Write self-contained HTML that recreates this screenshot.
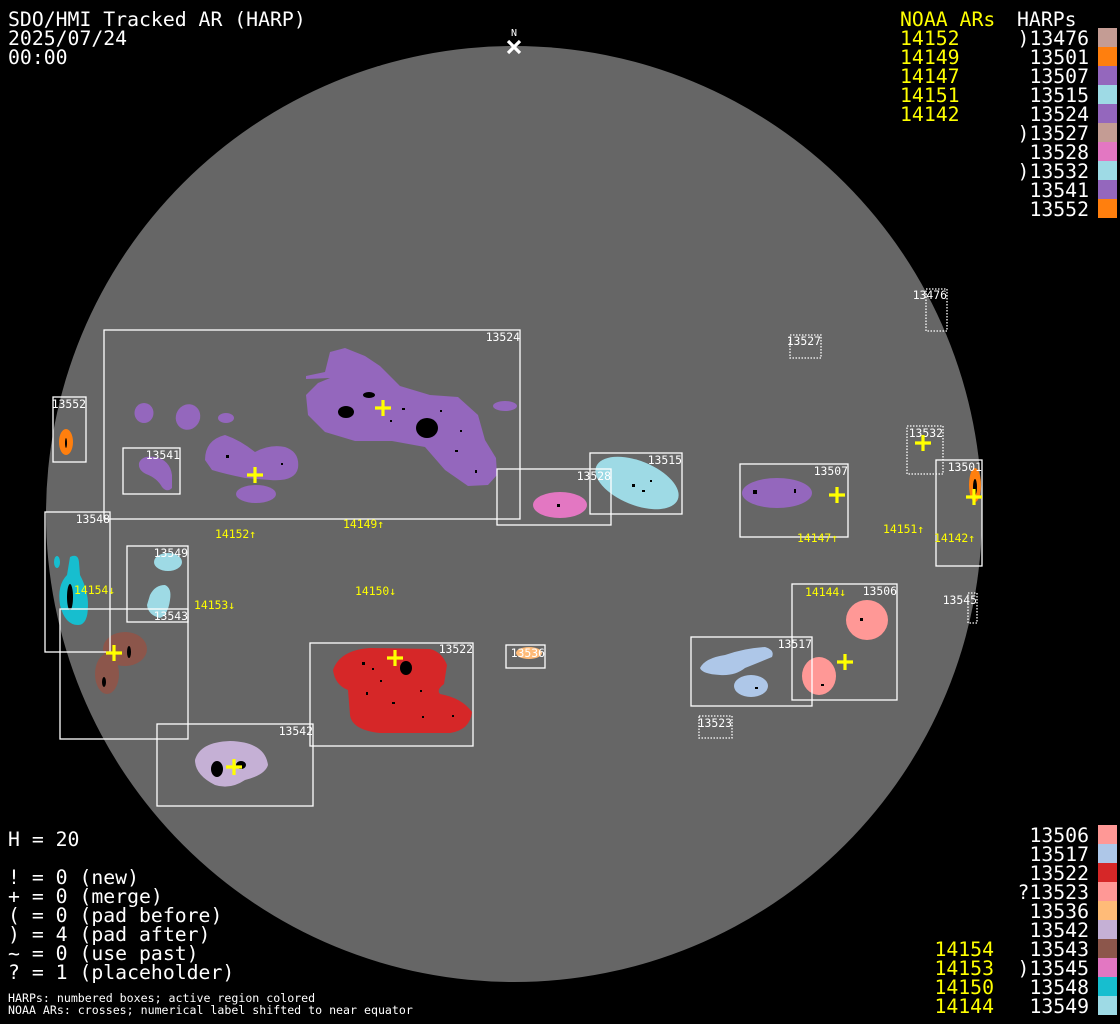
<!DOCTYPE html>
<html><head><meta charset="utf-8"><style>
html,body{margin:0;padding:0;background:#000;}
svg{display:block;}
text{font-family:"DejaVu Sans Mono","Liberation Mono",monospace;}
.big{font-size:19.8px;fill:#fff;}
.y{fill:#ffff00;}
.lb{font-size:11.4px;fill:#fff;}
.nl{font-size:11.4px;fill:#ffff00;}
.sm{font-size:11.6px;fill:#fff;}
.bx{fill:none;stroke:#fff;stroke-width:1.3;}
.dt{fill:none;stroke:#fff;stroke-width:1.3;stroke-dasharray:1.5 1.5;}
.cr{stroke:#ffff00;stroke-width:3.2;}
.k{fill:#000;}
</style></head><body>
<svg width="1120" height="1024" viewBox="0 0 1120 1024" xmlns="http://www.w3.org/2000/svg">
<rect width="1120" height="1024" fill="#000"/>
<circle cx="514" cy="514" r="468" fill="#666666"/>

<text x="514" y="36" class="lb" text-anchor="middle" style="font-size:10px">N</text>
<path d="M508,41 L520,53 M520,41 L508,53" stroke="#fff" stroke-width="3.2"/>

<g stroke-linejoin="round">
<path fill="#9467bd" d="M306,376 L325,372 L330,352 L345,348 L365,356 L380,366 L400,386 L430,395 L458,397 L478,415 L485,440 L496,458 L497,475 L488,485 L468,486 L445,470 L425,447 L392,441 L355,441 L325,432 L308,415 L306,395 L318,383 L330,378 L306,379 Z"/>
<ellipse cx="505" cy="406" rx="12" ry="5" fill="#9467bd"/>
<ellipse cx="144" cy="413" rx="9.5" ry="10" fill="#9467bd"/>
<ellipse cx="188" cy="417" rx="12" ry="13" transform="rotate(30 188 417)" fill="#9467bd"/>
<ellipse cx="226" cy="418" rx="8" ry="5" fill="#9467bd"/>
<path fill="#9467bd" d="M205,460 Q205,440 225,435 Q240,440 255,452 Q270,444 285,447 Q300,452 298,468 Q295,482 270,480 L245,478 Q225,474 212,470 Z"/>
<ellipse cx="256" cy="494" rx="20" ry="9" fill="#9467bd"/>
<path fill="#9467bd" d="M139,463 Q142,455 155,457 Q170,460 172,475 L172,488 Q167,493 162,487 Q157,478 146,474 Q138,470 139,463 Z"/>
<ellipse cx="66" cy="442" rx="7" ry="13" fill="#ff7f0e"/>
<path fill="#17becf" d="M70,557 Q78,553 79,562 L80,575 Q88,590 88,605 Q88,625 78,625 Q65,625 60,605 Q57,585 67,575 Z"/>
<ellipse cx="57" cy="562" rx="3" ry="6" fill="#17becf"/>
<ellipse cx="168" cy="562" rx="14" ry="9" fill="#9edae5"/>
<path fill="#9edae5" d="M150,595 Q155,585 165,585 Q172,588 170,600 Q168,615 160,618 Q148,615 147,605 Z"/>
<ellipse cx="125" cy="649" rx="22" ry="17" fill="#8c564b"/>
<ellipse cx="107" cy="674" rx="12" ry="20" fill="#8c564b"/>
<path fill="#d62728" d="M333,670 Q340,650 370,648 L430,649 Q442,652 447,665 L444,684 Q436,690 440,694 Q462,698 472,712 Q470,730 450,733 L380,733 Q352,730 350,715 L348,690 Q335,685 333,670 Z"/>
<path fill="#c5b0d5" d="M195,760 Q200,742 230,741 Q265,742 268,765 Q265,775 245,780 Q230,790 215,785 Q195,775 195,760 Z"/>
<ellipse cx="560" cy="505" rx="27" ry="13" fill="#e377c2"/>
<ellipse cx="637" cy="483" rx="44" ry="22" transform="rotate(22 637 483)" fill="#9edae5"/>
<ellipse cx="777" cy="493" rx="35" ry="15" fill="#9467bd"/>
<ellipse cx="975" cy="485" rx="6" ry="17" fill="#ff7f0e"/>
<ellipse cx="867" cy="620" rx="21" ry="20" fill="#ff9896"/>
<ellipse cx="819" cy="676" rx="17" ry="19" fill="#ff9896"/>
<path fill="#aec7e8" d="M700,668 Q705,658 725,655 Q745,648 765,647 Q775,650 772,657 Q760,662 745,668 Q735,676 720,675 Q702,674 700,668 Z"/>
<ellipse cx="751" cy="686" rx="17" ry="11" fill="#aec7e8"/>
<ellipse cx="529" cy="653" rx="13" ry="6" fill="#ffbb78"/>
</g>

<g class="k">
<ellipse cx="346" cy="412" rx="8" ry="6"/>
<ellipse cx="427" cy="428" rx="11" ry="10"/>
<ellipse cx="369" cy="395" rx="6" ry="3"/>
<ellipse cx="406" cy="668" rx="6" ry="7"/>
<ellipse cx="217" cy="769" rx="6" ry="8"/>
<ellipse cx="241" cy="765" rx="5" ry="4"/>
<ellipse cx="70" cy="597" rx="3" ry="13"/>
<ellipse cx="129" cy="652" rx="2" ry="6"/>
<ellipse cx="104" cy="682" rx="2" ry="5"/>
<ellipse cx="975" cy="487" rx="2" ry="8"/>
<ellipse cx="66" cy="443" rx="1" ry="5"/>
<rect x="362" y="662" width="3" height="3"/><rect x="372" y="668" width="2" height="2"/><rect x="366" y="692" width="2" height="3"/><rect x="392" y="702" width="3" height="2"/>
<rect x="422" y="716" width="2" height="2"/><rect x="452" y="715" width="2" height="2"/><rect x="380" y="680" width="2" height="2"/><rect x="420" y="690" width="2" height="2"/>
<rect x="632" y="484" width="3" height="3"/><rect x="642" y="490" width="3" height="2"/><rect x="650" y="480" width="2" height="2"/>
<rect x="753" y="490" width="4" height="4"/><rect x="794" y="489" width="2" height="4"/>
<rect x="557" y="504" width="3" height="3"/><rect x="860" y="618" width="3" height="3"/>
<rect x="821" y="684" width="3" height="2"/><rect x="755" y="687" width="3" height="2"/>
<rect x="402" y="408" width="3" height="2"/><rect x="455" y="450" width="3" height="2"/><rect x="475" y="470" width="2" height="3"/>
<rect x="390" y="420" width="2" height="2"/><rect x="440" y="410" width="2" height="2"/><rect x="460" y="430" width="2" height="2"/>
<rect x="226" y="455" width="3" height="3"/><rect x="281" y="463" width="2" height="2"/>
</g>

<rect class="bx" x="104" y="330" width="416" height="189"/>
<rect class="bx" x="53" y="397" width="33" height="65"/>
<rect class="bx" x="123" y="448" width="57" height="46"/>
<rect class="bx" x="45" y="512" width="65" height="140"/>
<rect class="bx" x="127" y="546" width="61" height="76"/>
<rect class="bx" x="60" y="609" width="128" height="130"/>
<rect class="bx" x="157" y="724" width="156" height="82"/>
<rect class="bx" x="310" y="643" width="163" height="103"/>
<rect class="bx" x="497" y="469" width="114" height="56"/>
<rect class="bx" x="590" y="453" width="92" height="61"/>
<rect class="bx" x="740" y="464" width="108" height="73"/>
<rect class="bx" x="936" y="460" width="46" height="106"/>
<rect class="bx" x="792" y="584" width="105" height="116"/>
<rect class="bx" x="691" y="637" width="121" height="69"/>
<rect class="bx" x="506" y="645" width="39" height="23"/>
<rect class="dt" x="907" y="426" width="36" height="48"/>
<rect class="dt" x="699" y="716" width="33" height="22"/>
<rect class="dt" x="968" y="593" width="9" height="30"/>
<rect class="dt" x="926" y="289" width="21" height="42"/>
<rect class="dt" x="790" y="335" width="31" height="23"/>

<g class="lb" text-anchor="end">
<text x="520" y="341">13524</text>
<text x="86" y="408">13552</text>
<text x="180" y="459">13541</text>
<text x="110" y="523">13548</text>
<text x="188" y="557">13549</text>
<text x="188" y="620">13543</text>
<text x="313" y="735">13542</text>
<text x="473" y="653">13522</text>
<text x="611" y="480">13528</text>
<text x="682" y="464">13515</text>
<text x="848" y="475">13507</text>
<text x="982" y="471">13501</text>
<text x="943" y="437">13532</text>
<text x="897" y="595">13506</text>
<text x="812" y="648">13517</text>
<text x="545" y="657">13536</text>
<text x="732" y="727">13523</text>
<text x="977" y="604">13545</text>
<text x="947" y="299">13476</text>
<text x="821" y="345">13527</text>
</g>

<g class="cr">
<path d="M375,408 H391 M383,400 V416"/>
<path d="M247,475 H263 M255,467 V483"/>
<path d="M106,653 H122 M114,645 V661"/>
<path d="M387,658 H403 M395,650 V666"/>
<path d="M226,767 H242 M234,759 V775"/>
<path d="M829,495 H845 M837,487 V503"/>
<path d="M915,443 H931 M923,435 V451"/>
<path d="M966,497 H982 M974,489 V505"/>
<path d="M837,662 H853 M845,654 V670"/>
</g>

<g class="nl">
<text x="215" y="538">14152↑</text>
<text x="343" y="528">14149↑</text>
<text x="74" y="594">14154↓</text>
<text x="194" y="609">14153↓</text>
<text x="355" y="595">14150↓</text>
<text x="797" y="542">14147↑</text>
<text x="883" y="533">14151↑</text>
<text x="934" y="542">14142↑</text>
<text x="805" y="596">14144↓</text>
</g>

<g class="big">
<text x="8" y="26">SDO/HMI Tracked AR (HARP)</text>
<text x="8" y="45">2025/07/24</text>
<text x="8" y="64">00:00</text>
</g>

<g class="big">
<text x="900" y="26" class="y">NOAA ARs</text>
<text x="900" y="45" class="y">14152</text>
<text x="900" y="64" class="y">14149</text>
<text x="900" y="83" class="y">14147</text>
<text x="900" y="102" class="y">14151</text>
<text x="900" y="121" class="y">14142</text>
<text x="1017" y="26">HARPs</text>
</g>
<g class="big" text-anchor="end">
<text x="1089" y="45">)13476</text>
<text x="1089" y="64">13501</text>
<text x="1089" y="83">13507</text>
<text x="1089" y="102">13515</text>
<text x="1089" y="121">13524</text>
<text x="1089" y="140">)13527</text>
<text x="1089" y="159">13528</text>
<text x="1089" y="178">)13532</text>
<text x="1089" y="197">13541</text>
<text x="1089" y="216">13552</text>
</g>
<g>
<rect x="1098" y="28" width="19" height="19" fill="#c49c94"/>
<rect x="1098" y="47" width="19" height="19" fill="#ff7f0e"/>
<rect x="1098" y="66" width="19" height="19" fill="#9467bd"/>
<rect x="1098" y="85" width="19" height="19" fill="#9edae5"/>
<rect x="1098" y="104" width="19" height="19" fill="#9467bd"/>
<rect x="1098" y="123" width="19" height="19" fill="#c49c94"/>
<rect x="1098" y="142" width="19" height="19" fill="#e377c2"/>
<rect x="1098" y="161" width="19" height="19" fill="#9edae5"/>
<rect x="1098" y="180" width="19" height="19" fill="#9467bd"/>
<rect x="1098" y="199" width="19" height="19" fill="#ff7f0e"/>
</g>

<g class="big">
<text x="8" y="846">H = 20</text>
<text x="8" y="884">! = 0 (new)</text>
<text x="8" y="903">+ = 0 (merge)</text>
<text x="8" y="922">( = 0 (pad before)</text>
<text x="8" y="941">) = 4 (pad after)</text>
<text x="8" y="960">~ = 0 (use past)</text>
<text x="8" y="979">? = 1 (placeholder)</text>
</g>
<g class="sm">
<text x="8" y="1002">HARPs: numbered boxes; active region colored</text>
<text x="8" y="1014">NOAA ARs: crosses; numerical label shifted to near equator</text>
</g>

<g class="big" text-anchor="end">
<text x="1089" y="842">13506</text>
<text x="1089" y="861">13517</text>
<text x="1089" y="880">13522</text>
<text x="1089" y="899">?13523</text>
<text x="1089" y="918">13536</text>
<text x="1089" y="937">13542</text>
<text x="1089" y="956">13543</text>
<text x="1089" y="975">)13545</text>
<text x="1089" y="994">13548</text>
<text x="1089" y="1013">13549</text>
<text x="994" y="956" class="y">14154</text>
<text x="994" y="975" class="y">14153</text>
<text x="994" y="994" class="y">14150</text>
<text x="994" y="1013" class="y">14144</text>
</g>
<g>
<rect x="1098" y="825" width="19" height="19" fill="#ff9896"/>
<rect x="1098" y="844" width="19" height="19" fill="#aec7e8"/>
<rect x="1098" y="863" width="19" height="19" fill="#d62728"/>
<rect x="1098" y="882" width="19" height="19" fill="#ff9896"/>
<rect x="1098" y="901" width="19" height="19" fill="#ffbb78"/>
<rect x="1098" y="920" width="19" height="19" fill="#c5b0d5"/>
<rect x="1098" y="939" width="19" height="19" fill="#8c564b"/>
<rect x="1098" y="958" width="19" height="19" fill="#e377c2"/>
<rect x="1098" y="977" width="19" height="19" fill="#17becf"/>
<rect x="1098" y="996" width="19" height="19" fill="#9edae5"/>
</g>
</svg>
</body></html>
